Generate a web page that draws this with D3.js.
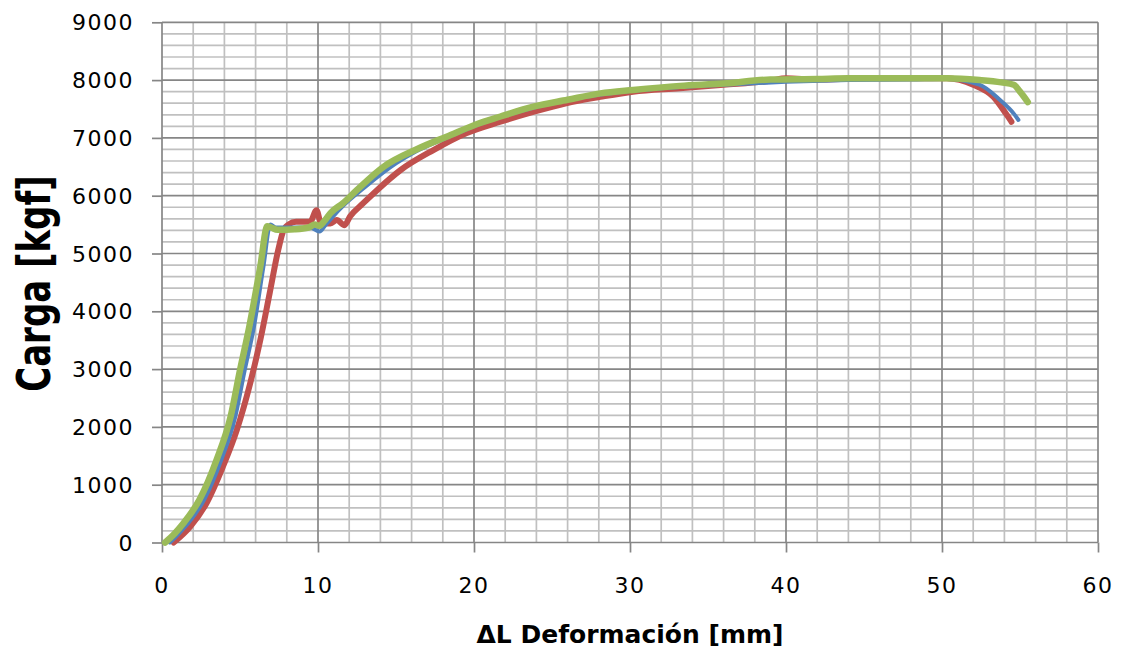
<!DOCTYPE html>
<html>
<head>
<meta charset="utf-8">
<script src="https://cdn.jsdelivr.net/npm/d3@7"></script>
<style>
  html, body { margin: 0; padding: 0; background: #fff; }
  svg { display: block; }
  .tick-label { font-family: "DejaVu Sans", sans-serif; font-size: 22px; fill: #000; letter-spacing: 1.5px; }
  .title { font-family: "DejaVu Sans", sans-serif; font-weight: bold; fill: #000; }
</style>
</head>
<body>
<div id="chart"></div>
<script>
// --- データ ---
const xTicks = [0, 10, 20, 30, 40, 50, 60];
const yTicks = [0, 1000, 2000, 3000, 4000, 5000, 6000, 7000, 8000, 9000];

// 赤 (Probeta 1)
const redDef  = [0.75, 1.8, 2.85, 3.9, 4.8, 5.65, 6.3, 6.9, 7.45, 7.8, 8.1, 8.6, 9.5, 9.9, 10.2, 10.8, 11.2, 11.7, 12.05, 12.9, 13.8, 15.3, 17.4, 19.5, 21.7, 23.8, 25.9, 28.1, 30.2, 33.2, 36, 39, 40, 42, 45, 48, 50.3, 52, 53.3, 54.1, 54.45];
const redLoad = [0, 270, 680, 1310, 1950, 2750, 3500, 4310, 5060, 5410, 5500, 5550, 5550, 5750, 5520, 5520, 5580, 5490, 5640, 5870, 6100, 6445, 6790, 7080, 7280, 7450, 7600, 7710, 7800, 7860, 7920, 7990, 8030, 8010, 8030, 8030, 8030, 7920, 7710, 7420, 7280];

// 青 (Probeta 2)
const blueDef  = [0.5, 1.1, 1.7, 2.7, 3.8, 4.7, 5.3, 5.9, 6.5, 6.95, 7.3, 8.5, 9.5, 10.1, 10.5, 11.4, 13.1, 15.0, 16.3, 18.5, 20, 23.8, 28.1, 33.2, 36, 40, 44, 48, 50.3, 52.4, 53.7, 54.6, 54.9];
const blueLoad = [0, 160, 340, 740, 1430, 2180, 2980, 3740, 4770, 5500, 5450, 5450, 5450, 5380, 5500, 5770, 6170, 6560, 6770, 7030, 7200, 7520, 7750, 7880, 7920, 7970, 8000, 8010, 8020, 7920, 7660, 7420, 7310];

// 緑 (Probeta 3)
const greenDef  = [0.2, 0.8, 1.4, 2.4, 3.5, 4.4, 5.0, 5.6, 6.3, 6.75, 7.0, 7.4, 8.5, 9.4, 9.8, 10.1, 10.4, 10.8, 11.6, 12.5, 14.2, 16.3, 18.5, 20.0, 21.7, 23.8, 26.0, 28.1, 30.2, 33.2, 36, 39, 42, 44, 47, 50.3, 52.4, 53.8, 54.6, 55.0, 55.5];
const greenLoad = [0, 150, 340, 740, 1430, 2180, 2980, 3740, 4770, 5470, 5450, 5410, 5420, 5450, 5500, 5480, 5560, 5700, 5870, 6100, 6500, 6800, 7050, 7220, 7370, 7540, 7660, 7770, 7830, 7900, 7940, 8010, 8020, 8030, 8030, 8030, 8000, 7960, 7920, 7800, 7620];

const series = [
  { def: redDef,   load: redLoad,   color: "#c0504d", width: 6 },
  { def: blueDef,  load: blueLoad,  color: "#4f81bd", width: 4 },
  { def: greenDef, load: greenLoad, color: "#9bbb59", width: 6.5 }
];

// --- 描画 ---
const W = 1128, H = 651;
const svg = d3.select("#chart").append("svg")
  .attr("width", W).attr("height", H);

const x = d3.scaleLinear().domain([0, 60]).range([162, 1098]);
const y = d3.scaleLinear().domain([0, 9000]).range([542.5, 22.3]);

// グリッド (副)
const grid = svg.append("g");
grid.selectAll(".vminor").data(d3.range(2, 60, 2).filter(v => v % 10 !== 0))
  .enter().append("line")
  .attr("x1", d => x(d)).attr("x2", d => x(d))
  .attr("y1", y(0)).attr("y2", y(9000))
  .attr("stroke", "#c0c0c0").attr("stroke-width", 1.7);
grid.selectAll(".hminor").data(d3.range(200, 9000, 200).filter(v => v % 1000 !== 0))
  .enter().append("line")
  .attr("x1", x(0)).attr("x2", x(60))
  .attr("y1", d => y(d)).attr("y2", d => y(d))
  .attr("stroke", "#c0c0c0").attr("stroke-width", 1.7);

// グリッド (主)
grid.selectAll(".vmajor").data(xTicks)
  .enter().append("line")
  .attr("x1", d => x(d)).attr("x2", d => x(d))
  .attr("y1", y(0)).attr("y2", y(9000))
  .attr("stroke", "#868686").attr("stroke-width", 1.7);
grid.selectAll(".hmajor").data(yTicks)
  .enter().append("line")
  .attr("x1", x(0)).attr("x2", x(60))
  .attr("y1", d => y(d)).attr("y2", d => y(d))
  .attr("stroke", "#868686").attr("stroke-width", 1.7);

// 軸
const xAxis = d3.axisBottom(x).tickValues(xTicks).tickSize(10).tickFormat("");
const yAxis = d3.axisLeft(y).tickValues(yTicks).tickSize(10).tickFormat("");
svg.append("g").attr("transform", `translate(0,${y(0)})`).call(xAxis)
  .call(g => g.selectAll("path,line").attr("stroke", "#868686").attr("stroke-width", 1.7))
  .call(g => g.select(".domain").remove());
svg.append("g").attr("transform", `translate(${x(0)},0)`).call(yAxis)
  .call(g => g.selectAll("path,line").attr("stroke", "#868686").attr("stroke-width", 1.7))
  .call(g => g.select(".domain").remove());

// 目盛りラベル
svg.append("g").selectAll("text").data(xTicks).enter().append("text")
  .attr("class", "tick-label")
  .attr("x", d => x(d)).attr("y", 593)
  .attr("text-anchor", "middle")
  .text(d => d);
svg.append("g").selectAll("text").data(yTicks).enter().append("text")
  .attr("class", "tick-label")
  .attr("x", 134).attr("y", d => y(d) + 8)
  .attr("text-anchor", "end")
  .text(d => d);

// 曲線
const line = d3.line().x(d => x(d[0])).y(d => y(d[1])).curve(d3.curveMonotoneX);
series.forEach(s => {
  const pts = s.def.map((v, i) => [v, s.load[i]]);
  svg.append("path")
    .datum(pts)
    .attr("d", line)
    .attr("fill", "none")
    .attr("stroke", s.color)
    .attr("stroke-width", s.width)
    .attr("stroke-linejoin", "round")
    .attr("stroke-linecap", "round");
});

// 軸タイトル
svg.append("text")
  .attr("class", "title")
  .attr("font-size", 25)
  .attr("x", 630).attr("y", 643)
  .attr("text-anchor", "middle")
  .text("ΔL Deformación [mm]");

svg.append("text")
  .attr("class", "title")
  .attr("font-size", 34)
  .attr("text-anchor", "middle")
  .attr("transform", "translate(50,283.5) scale(1.35,1) rotate(-90)")
  .text("Carga [kgf]");
</script>
</body>
</html>
